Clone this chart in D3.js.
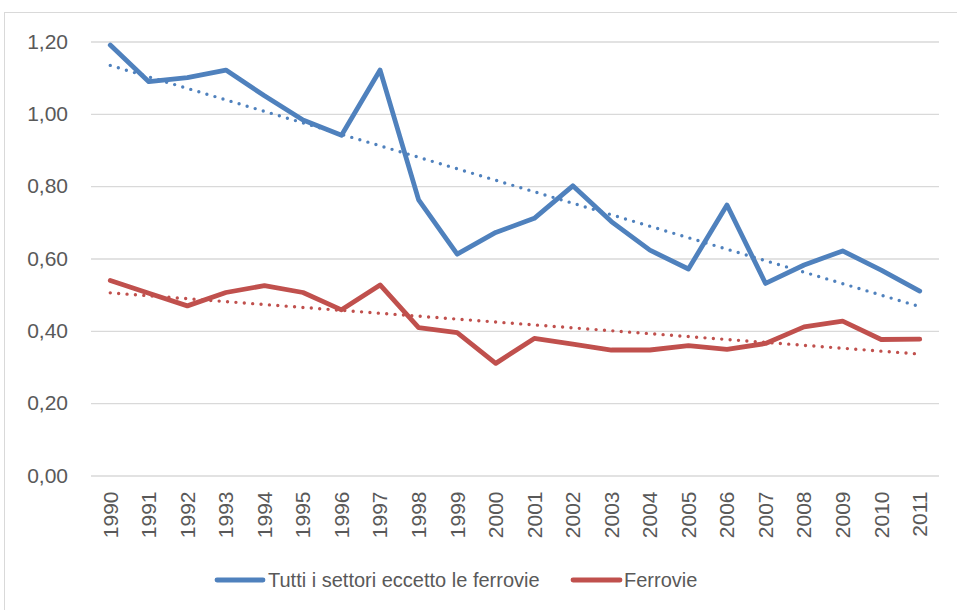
<!DOCTYPE html>
<html>
<head>
<meta charset="utf-8">
<script src="https://cdn.jsdelivr.net/npm/d3@7"></script>
<style>
  body { margin: 0; background: #fff; }
  svg { display: block; font-family: "Liberation Sans", Arial, sans-serif; }
</style>
</head>
<body>
<svg id="chart" width="957" height="610"></svg>
<script>
const years = ['1990', '1991', '1992', '1993', '1994', '1995', '1996', '1997', '1998', '1999', '2000',
    '2001', '2002', '2003', '2004', '2005', '2006', '2007', '2008', '2009', '2010', '2011'];
const tutti = [1.19, 1.089, 1.10, 1.121, 1.05, 0.983, 0.941, 1.121, 0.762, 0.612, 0.672,
    0.711, 0.801, 0.702, 0.623, 0.571, 0.748, 0.531, 0.582, 0.621, 0.568, 0.510];
const ferrovie = [0.539, 0.504, 0.469, 0.506, 0.525, 0.506, 0.458, 0.527, 0.409, 0.395, 0.310,
    0.379, 0.363, 0.347, 0.347, 0.359, 0.349, 0.365, 0.411, 0.427, 0.376, 0.377];
const yTicks = [0, 0.2, 0.4, 0.6, 0.8, 1.0, 1.2];
const seriesNames = ['Tutti i settori eccetto le ferrovie', 'Ferrovie'];

const colors = ['#4f81bd', '#c0504d'];
const margin = {top: 41.5, right: 18, bottom: 134.5, left: 91};
const width = 957, height = 610;

const svg = d3.select('#chart');

// outer frame
svg.append('rect')
    .attr('x', 4.5).attr('y', 12.5)
    .attr('width', 1000).attr('height', 1000)
    .attr('fill', 'none').attr('stroke', '#d9d9d9');

const x = d3.scaleBand()
    .domain(years)
    .range([margin.left, width - margin.right]);

const y = d3.scaleLinear()
    .domain([0, 1.2])
    .range([height - margin.bottom, margin.top]);

const fmt = v => d3.format('.2f')(v).replace('.', ',');

// grid + y labels
const yAxis = svg.append('g')
    .attr('transform', `translate(${margin.left},0)`)
    .call(d3.axisLeft(y).tickValues(yTicks).tickFormat(fmt)
        .tickSize(-(width - margin.left - margin.right)).tickPadding(23));
yAxis.select('.domain').remove();
yAxis.selectAll('.tick line').attr('stroke', '#d9d9d9').attr('stroke-width', 1.3);
yAxis.selectAll('.tick text').attr('fill', '#595959').style('font-size', '21px');

// x labels
const xAxis = svg.append('g')
    .attr('transform', `translate(0,${height - margin.bottom})`)
    .call(d3.axisBottom(x).tickSize(0));
xAxis.select('.domain').remove();
xAxis.selectAll('.tick text')
    .attr('fill', '#595959')
    .style('font-size', '21px')
    .attr('text-anchor', 'end')
    .attr('transform', 'rotate(-90)')
    .attr('x', -16)
    .attr('y', 0)
    .attr('dy', '0.35em');

const cx = d => x(d) + x.bandwidth() / 2;

// linear trend (least squares over index)
function trend(values) {
    const n = values.length;
    const idx = d3.range(n);
    const mx = d3.mean(idx), my = d3.mean(values);
    const b = d3.sum(idx, i => (i - mx) * (values[i] - my)) / d3.sum(idx, i => (i - mx) ** 2);
    const a = my - b * mx;
    return [a, a + b * (n - 1)];
}

const line = d3.line()
    .x((d, i) => cx(years[i]))
    .y(d => y(d));

[tutti, ferrovie].forEach((vals, k) => {
    const t = trend(vals);
    svg.append('line')
        .attr('x1', cx(years[0])).attr('y1', y(t[0]))
        .attr('x2', cx(years[years.length - 1])).attr('y2', y(t[1]))
        .attr('stroke', colors[k])
        .attr('stroke-width', 3.4)
        .attr('stroke-linecap', 'round')
        .attr('stroke-dasharray', '0 8.4');

    svg.append('path')
        .datum(vals)
        .attr('fill', 'none')
        .attr('stroke', colors[k])
        .attr('stroke-width', 4.8)
        .attr('stroke-linejoin', 'round')
        .attr('stroke-linecap', 'round')
        .attr('d', line);
});

// legend
const legendItems = [
    {x1: 217, x2: 263, tx: 268},
    {x1: 573, x2: 620, tx: 624}
];
legendItems.forEach((l, k) => {
    svg.append('line')
        .attr('x1', l.x1).attr('x2', l.x2)
        .attr('y1', 580).attr('y2', 580)
        .attr('stroke', colors[k]).attr('stroke-width', 4.8)
        .attr('stroke-linecap', 'round');
    svg.append('text')
        .attr('x', l.tx).attr('y', 580)
        .attr('dy', '0.35em')
        .attr('fill', '#595959')
        .style('font-size', '20px')
        .text(seriesNames[k]);
});
</script>
</body>
</html>
